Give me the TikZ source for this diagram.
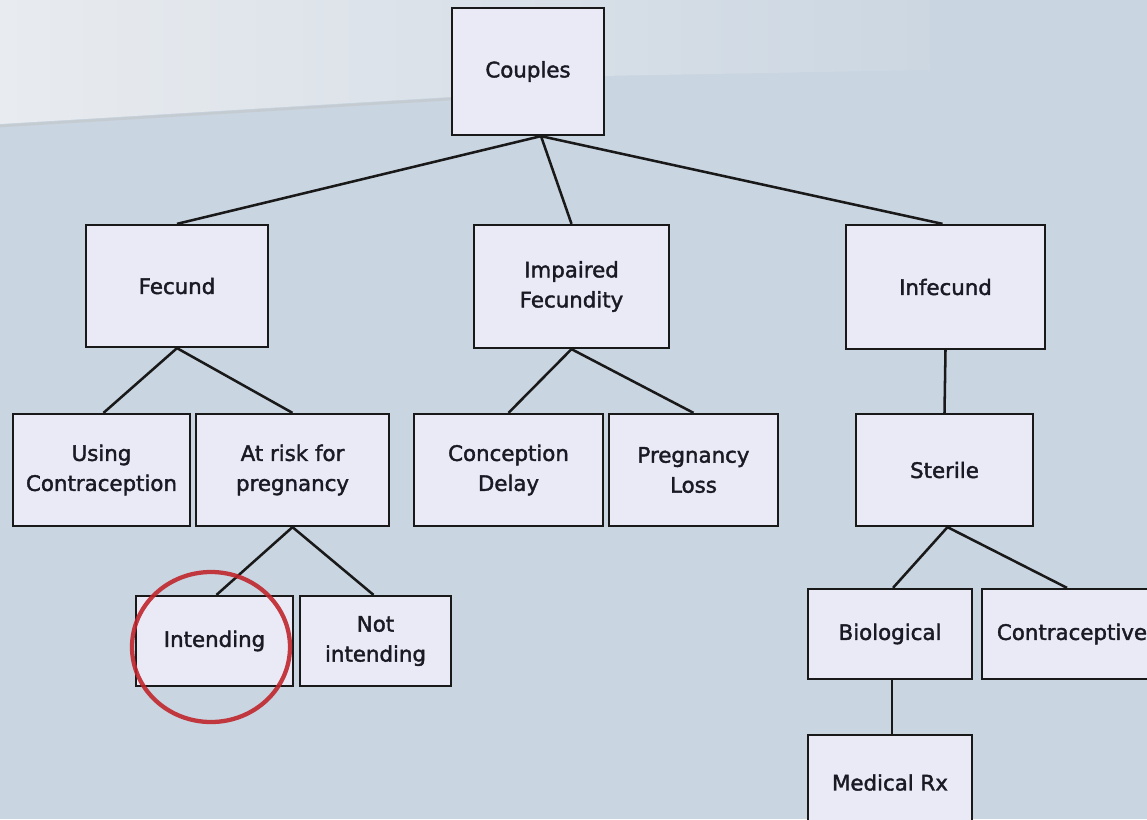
\documentclass[tikz,border=0pt]{standalone}
\usepackage{fontspec}
\setmainfont{DejaVu Sans}
\newfontfamily\boxfont[FakeBold=1.8]{DejaVu Sans}
\usetikzlibrary{calc}
\definecolor{bgbase}{HTML}{C9D5E1}
\definecolor{bglight}{HTML}{E8EBEF}
\definecolor{bgmid}{HTML}{CCD7E2}
\definecolor{boxfill}{HTML}{E9EAF6}
\definecolor{txt}{HTML}{1A1A24}
\definecolor{ring}{HTML}{C0262C}
\tikzset{
  treebox/.style={draw=black!90, line width=1.7pt, fill=boxfill, inner sep=0pt,
    align=center, text=txt, font=\boxfont\fontsize{16}{22.5}\selectfont},
  wh/.style 2 args={minimum width={#1*0.75pt}, minimum height={#2*0.75pt}},
  link/.style={draw=black!90, line width=1.9pt},
}
\begin{document}
\begin{tikzpicture}[x=0.75pt, y=-0.75pt]
\useasboundingbox (0,0) rectangle (1147,819);
\clip (0,0) rectangle (1147,819);
% background
\fill[bgbase] (0,0) rectangle (1147,819);
\shade[left color=bglight, right color=bgmid]
  (0,0) -- (930,0) -- (930,70) -- (600,76) -- (450,97) -- (0,124) -- cycle;
\draw[black!25, line width=2pt, opacity=0.45] (0,126) -- (450,99) -- (600,78);

% nodes
\node[treebox, wh={152}{127}] (cou) at (528,71.5) {Couples};
\node[treebox, wh={182}{122}] (fec) at (177,286) {Fecund};
\node[treebox, wh={195}{123}] (imp) at (571.5,286.5) {Impaired\\Fecundity};
\node[treebox, wh={199}{124}] (inf) at (945.5,287) {Infecund};
\node[treebox, wh={177}{112}] (use) at (101.5,470) {Using\\Contraception};
\node[treebox, wh={193}{112}] (risk) at (292.5,470) {At risk for\\pregnancy};
\node[treebox, wh={189}{112}] (con) at (508.5,470) {Conception\\Delay};
\node[treebox, wh={169}{112}] (los) at (693.5,470) {Pregnancy\\Loss};
\node[treebox, wh={177}{112}] (ste) at (944.5,470) {Sterile};
\node[treebox, wh={157}{90}] (int) at (214.5,641) {Intending};
\node[treebox, wh={151}{90}] (not) at (375.5,641) {Not\\intending};
\node[treebox, wh={164}{90}] (bio) at (890,634) {Biological};
\node[treebox, wh={180}{90}] (ctr) at (1072,634) {Contraceptive};
\node[treebox, wh={164}{95}] (med) at (890,782.5) {Medical Rx};

% connectors
\draw[link] ($(cou.south)+(13,0)$) -- (fec.north);
\draw[link] ($(cou.south)+(13,0)$) -- (imp.north);
\draw[link] ($(cou.south)+(13,0)$) -- ($(inf.north)+(-3,0)$);
\draw[link] (fec.south) -- ($(use.north)+(2,0)$);
\draw[link] (fec.south) -- (risk.north);
\draw[link] (risk.south) -- ($(int.north)+(2,0)$);
\draw[link] (risk.south) -- ($(not.north)+(-2,0)$);
\draw[link] (imp.south) -- (con.north);
\draw[link] (imp.south) -- (los.north);
\draw[link] (inf.south) -- (ste.north);
\draw[link] ($(ste.south)+(3,0)$) -- ($(bio.north)+(3,0)$);
\draw[link] ($(ste.south)+(3,0)$) -- ($(ctr.north)+(-5,0)$);
\draw[link] ($(bio.south)+(2,0)$) -- ($(med.north)+(2,0)$);

% highlight ring
\draw[ring, line width=3.2pt, opacity=0.9] (211,647) ellipse [x radius=79, y radius=75];
\end{tikzpicture}
\end{document}
